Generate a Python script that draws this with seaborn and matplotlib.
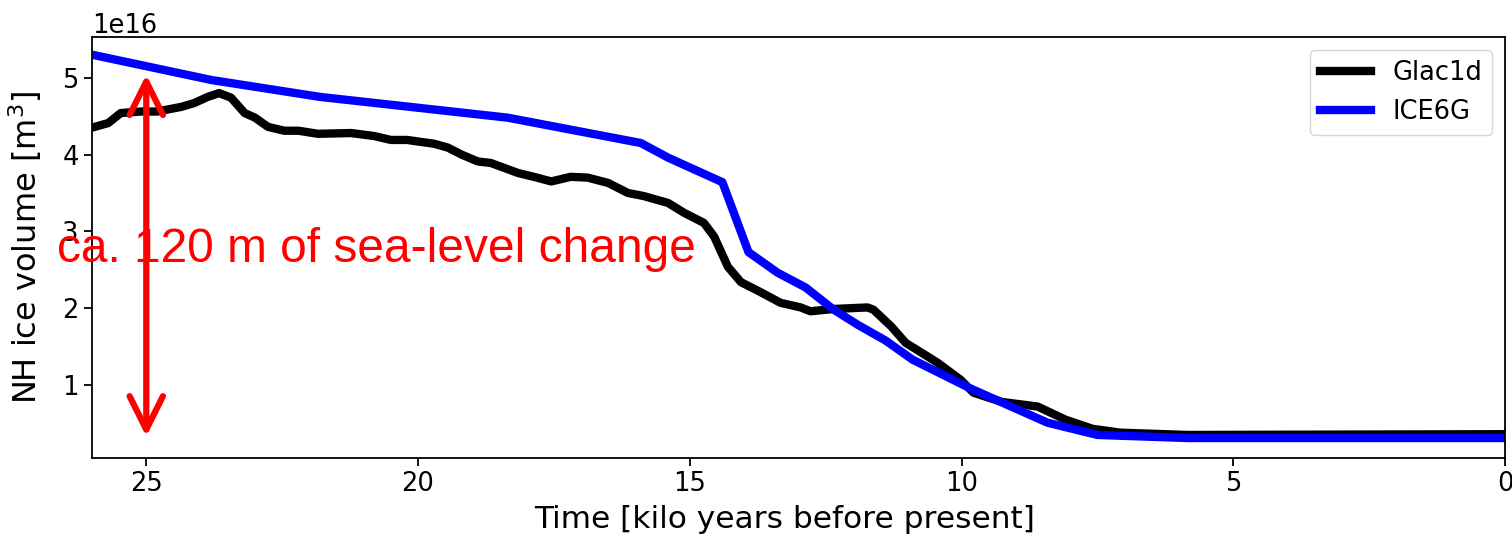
import numpy as np
import pandas as pd
import matplotlib
matplotlib.use("Agg")
import matplotlib.pyplot as plt
import seaborn as sns

# ---- data (volumes in units of 1e16 m^3, time in ka BP) ----
glac_time = [26.0, 25.7, 25.47, 25.1, 24.8, 24.36, 24.12, 23.87, 23.66, 23.44, 23.19, 23.0,
             22.76, 22.46, 22.2, 21.84, 21.23, 20.8, 20.5, 20.2, 19.7, 19.45, 19.2, 18.9,
             18.66, 18.16, 17.87, 17.55, 17.19, 16.88, 16.5, 16.14, 15.85, 15.4, 15.1, 14.74,
             14.55, 14.3, 14.06, 13.7, 13.33, 12.96, 12.78, 12.35, 11.73, 11.62, 11.29, 11.03,
             10.44, 10.02, 9.78, 9.26, 8.6, 8.09, 7.59, 7.08, 5.83, 0.0]
glac_vol = [4.35, 4.41, 4.54, 4.56, 4.56, 4.62, 4.67, 4.75, 4.80, 4.74, 4.54, 4.48,
            4.36, 4.31, 4.31, 4.27, 4.28, 4.24, 4.19, 4.19, 4.14, 4.09, 4.00, 3.91,
            3.89, 3.76, 3.71, 3.65, 3.71, 3.70, 3.63, 3.50, 3.46, 3.37, 3.24, 3.11,
            2.93, 2.54, 2.34, 2.21, 2.07, 2.01, 1.96, 1.99, 2.01, 1.98, 1.76, 1.55,
            1.29, 1.07, 0.90, 0.78, 0.72, 0.55, 0.43, 0.38, 0.35, 0.36]

ice6g_time = [26.0, 23.8, 21.8, 18.35, 15.9, 15.4, 14.4, 13.92, 13.38, 12.87, 12.35, 11.9,
              11.4, 10.9, 9.85, 8.42, 7.5, 5.83, 0.0]
ice6g_vol = [5.30, 4.97, 4.75, 4.48, 4.15, 3.96, 3.64, 2.73, 2.46, 2.27, 1.98, 1.78,
             1.58, 1.33, 0.96, 0.51, 0.35, 0.31, 0.31]

series_names = ["Glac1d", "ICE6G"]
series_colors = ["black", "blue"]
x_ticks = [25, 20, 15, 10, 5, 0]
annotation_text = "ca. 120 m of sea-level change"

df = pd.concat([
    pd.DataFrame({"time": glac_time, "vol": np.array(glac_vol) * 1e16, "model": series_names[0]}),
    pd.DataFrame({"time": ice6g_time, "vol": np.array(ice6g_vol) * 1e16, "model": series_names[1]}),
], ignore_index=True)

fig = plt.figure(figsize=(15.12, 5.41), dpi=100)
ax = fig.add_axes([0.0608, 0.1534, 0.9346, 0.7782])

sns.lineplot(data=df, x="time", y="vol", hue="model",
             palette=dict(zip(series_names, series_colors)),
             linewidth=6, ax=ax, sort=False, estimator=None)

ax.set_xlim(26, 0)
ax.set_ylim(0.05e16, 5.53e16)
ax.set_xticks(x_ticks)
ax.tick_params(labelsize=18.5, length=6, width=1.3)
for s in ax.spines.values():
    s.set_linewidth(1.3)
ax.yaxis.get_offset_text().set_fontsize(18.5)
ax.set_xlabel("Time [kilo years before present]", fontsize=22.5)
ax.set_ylabel("NH ice volume [m$^3$]", fontsize=23)
ax.xaxis.set_label_coords(0.49, -0.112)
ax.yaxis.set_label_coords(-0.034, 0.5)

leg = ax.legend(loc="upper right", fontsize=18.5, handlelength=2.0)
leg.set_title(None)

ax.annotate("", xy=(25, 0.33e16), xytext=(25, 5.04e16),
            arrowprops=dict(arrowstyle="<->", color="red", lw=4.5,
                            mutation_scale=60, shrinkA=0, shrinkB=0))
ax.text(26.65, 2.6e16, annotation_text, color="red", fontsize=34.5,
        family="Liberation Sans", va="baseline", ha="left")

fig.savefig("out.png", dpi=100)
